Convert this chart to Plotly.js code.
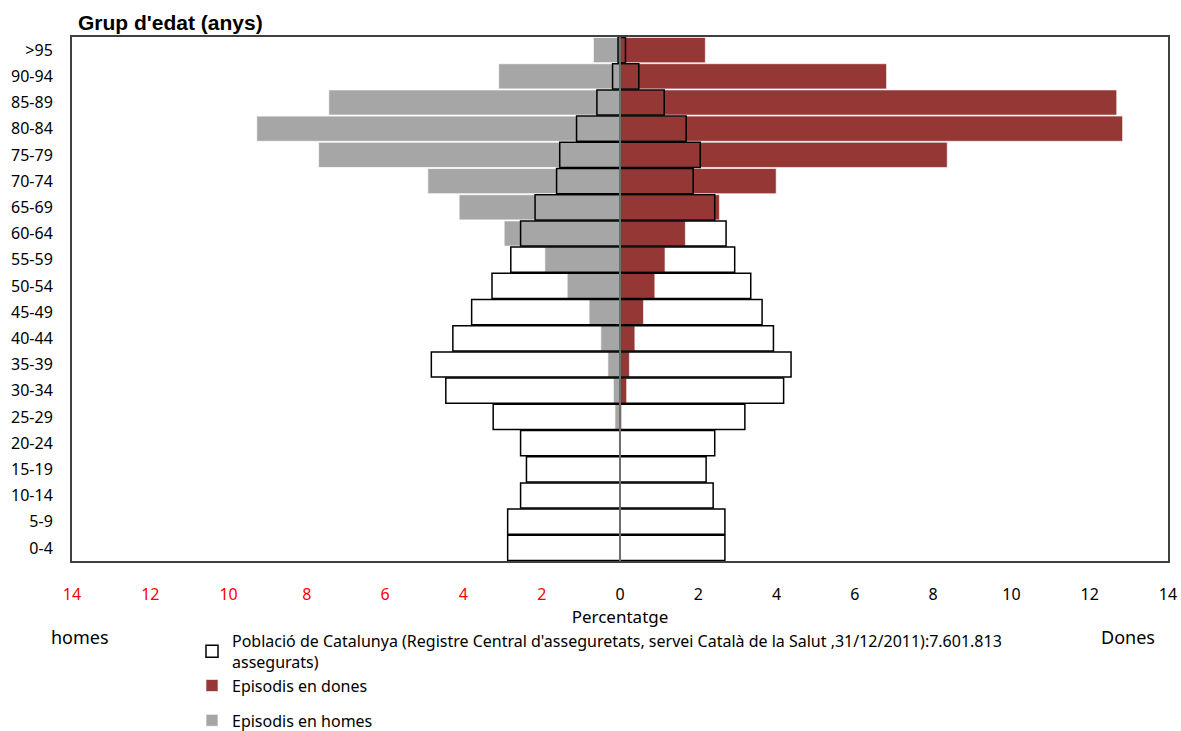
<!DOCTYPE html>
<html>
<head>
<meta charset="utf-8">
<script src="https://cdn.plot.ly/plotly-3.0.1.min.js"></script>
<style>html,body{margin:0;padding:0;background:#fff;}#chart{width:1181px;height:731px;}</style>
</head>
<body>
<div id="chart"></div>
<script>
// Age groups (bottom to top)
const ageGroups = ["0-4","5-9","10-14","15-19","20-24","25-29","30-34","35-39","40-44","45-49","50-54","55-59","60-64","65-69","70-74","75-79","80-84","85-89","90-94",">95"];
// Episodis en homes (%)
const episodisHomes = [0,0,0,0,0.03,0.13,0.17,0.31,0.49,0.79,1.35,1.92,2.96,4.11,4.91,7.70,9.28,7.44,3.10,0.68];
// Episodis en dones (%)
const episodisDones = [0,0,0,0,0.02,0.04,0.17,0.24,0.38,0.60,0.89,1.15,1.67,2.54,3.99,8.36,12.84,12.69,6.81,2.18];
// Població de Catalunya - homes (%)
const poblacioHomes = [2.87,2.87,2.54,2.39,2.54,3.24,4.45,4.82,4.27,3.79,3.27,2.79,2.54,2.17,1.62,1.54,1.11,0.59,0.19,0.05];
// Població de Catalunya - dones (%)
const poblacioDones = [2.68,2.68,2.38,2.20,2.42,3.19,4.18,4.37,3.92,3.63,3.34,2.93,2.71,2.42,1.87,2.05,1.69,1.13,0.48,0.14];
// X tick values and labels
const xTickVals = [-14,-12,-10,-8,-6,-4,-2,0,2,4,6,8,10,12,14];
const xTickText = ["14","12","10","8","6","4","2","0","2","4","6","8","10","12","14"];

const font = "Noto Sans, Open Sans, sans-serif";
const negHomes = episodisHomes.map(v => -v);
const negPobHomes = poblacioHomes.map(v => -v);
const tickText = xTickText.map((t, i) => xTickVals[i] < 0 ? '<span style="color:#ff0000">' + t + '</span>' : t);

const legendLabel = "Població de Catalunya (Registre Central d'asseguretats, servei Català de la Salut ,31/12/2011):7.601.813<br>assegurats)";

const traces = [
  {type:'bar', orientation:'h', y: ageGroups, x: negHomes, name:'Episodis en homes',
   marker:{color:'#a6a6a6', line:{color:'rgba(255,255,255,0.7)', width:1}},
   legendgroup:'b', legendrank: 3, hoverinfo:'skip'},
  {type:'bar', orientation:'h', y: ageGroups, x: episodisDones, name:'Episodis en dones',
   marker:{color:'#953735', line:{color:'rgba(255,255,255,0.6)', width:1}},
   legendgroup:'a', legendrank: 2, hoverinfo:'skip'},
  {type:'bar', orientation:'h', y: ageGroups, x: negPobHomes, name: legendLabel, showlegend:false,
   marker:{color:'rgba(255,255,255,0)', line:{color:'#000000', width:1.5}},
   legendgroup:'a', hoverinfo:'skip'},
  {type:'bar', orientation:'h', y: ageGroups, x: poblacioDones, name: legendLabel,
   marker:{color:'rgba(255,255,255,0)', line:{color:'#000000', width:1.5}},
   legendgroup:'a', legendrank: 1, hoverinfo:'skip'}
];

const layout = {
  width: 1181, height: 731,
  margin: {l:72, r:13, t:37, b:170, autoexpand:false},
  paper_bgcolor:'#ffffff', plot_bgcolor:'#ffffff',
  barmode:'overlay', bargap: 0.04,
  font: {family: font, size: 16, color:'#000'},
  title: {text:"<b>Grup d'edat (anys)</b>", x: 78/1181, xref:'container', xanchor:'left',
          y: 1 - 23/731, yref:'container', yanchor:'middle',
          font:{family:'Liberation Sans, Arial, sans-serif', size:21, color:'#000'}},
  xaxis: {range:[-14,14], tickvals: xTickVals, ticktext: tickText, showgrid:false,
          zeroline:false, showline:true, mirror:true, linecolor:'#404040', linewidth:2,
          ticks:'', ticklabelstandoff: 18, tickfont:{size:16, family:font},
          title:{text:'Percentatge', standoff: 0, font:{size:17, family:font}}, fixedrange:true},
  yaxis: {type:'category', categoryorder:'array', categoryarray: ageGroups, showgrid:false,
          showline:true, mirror:true, linecolor:'#404040', linewidth:2, ticks:'',
          ticklabelstandoff: 14, tickfont:{size:16, family:font}, fixedrange:true},
  shapes: [{type:'line', xref:'x', yref:'paper', x0:0, x1:0, y0:0, y1:1, layer:'above',
            line:{color:'#6e6e6e', width:2}}],
  annotations: [
    {text:'homes', xref:'paper', yref:'paper', x: (80-72)/1096, y: -(637-561)/524, xanchor:'center', yanchor:'middle', showarrow:false, font:{size:18, family:font}},
    {text:'Dones', xref:'paper', yref:'paper', x: (1128-72)/1096, y: -(637-561)/524, xanchor:'center', yanchor:'middle', showarrow:false, font:{size:18, family:font}}
  ],
  legend: {x: 192/1181, xref:'container', xanchor:'left', y: 1 - 624/731, yref:'container', yanchor:'top', orientation:'v',
           traceorder:'grouped', tracegroupgap: 11, bgcolor:'rgba(0,0,0,0)',
           font:{size:16, family:font}, itemwidth:30, itemclick:false, itemdoubleclick:false},
  showlegend: true
};

Plotly.newPlot('chart', traces, layout, {displayModeBar:false, staticPlot:true});
</script>
</body>
</html>
